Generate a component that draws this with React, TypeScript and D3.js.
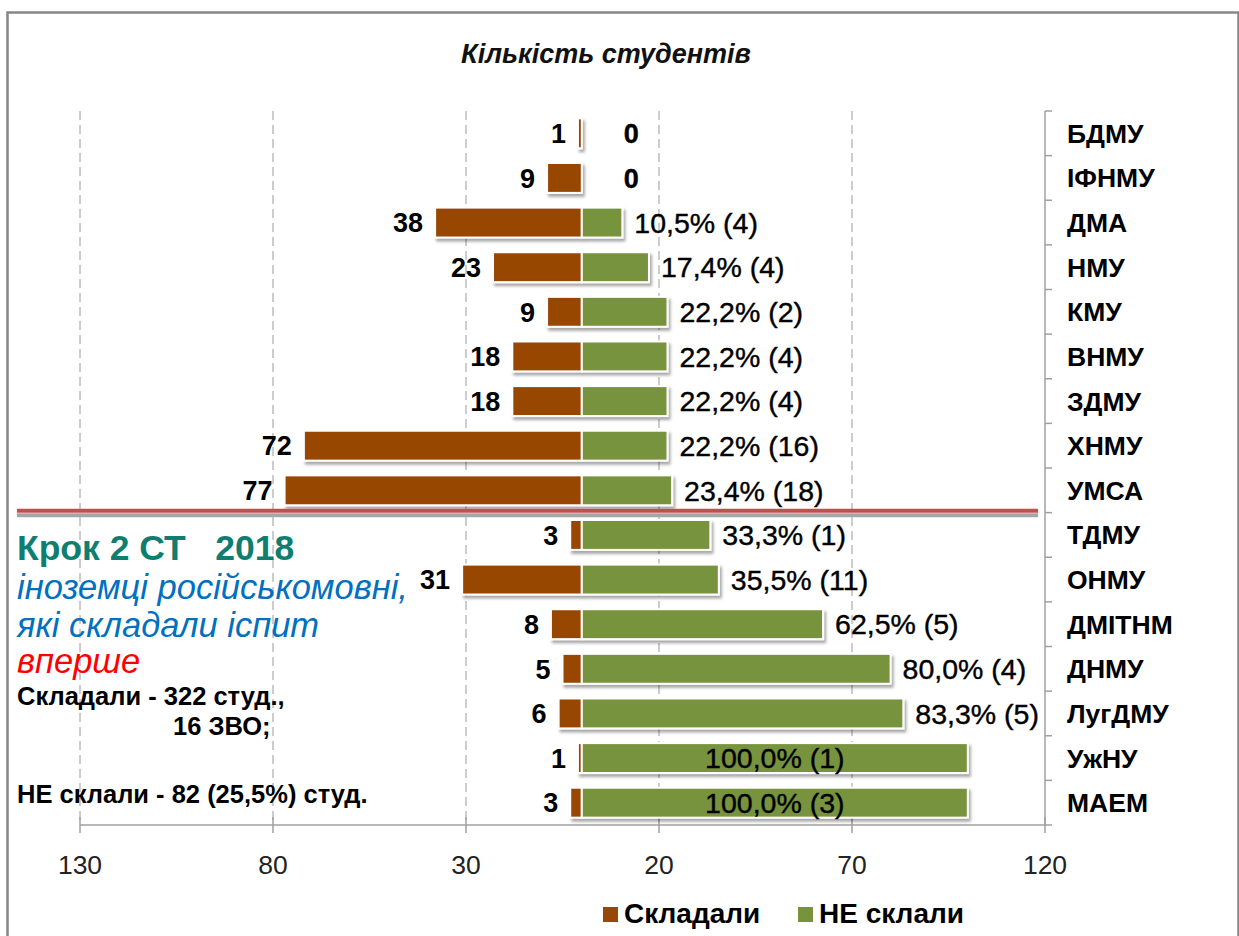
import React, { useEffect, useRef } from "react";
import * as d3 from "d3";

const categories = ["БДМУ", "ІФНМУ", "ДМА", "НМУ", "КМУ", "ВНМУ", "ЗДМУ", "ХНМУ", "УМСА", "ТДМУ", "ОНМУ", "ДМІТНМ", "ДНМУ", "ЛугДМУ", "УжНУ", "МАЕМ"];
const tookExam = [1, 9, 38, 23, 9, 18, 18, 72, 77, 3, 31, 8, 5, 6, 1, 3];
const failedPct = [0, 0, 10.5, 17.4, 22.2, 22.2, 22.2, 22.2, 23.4, 33.3, 35.5, 62.5, 80.0, 83.3, 100, 100];
const failedCount = [0, 0, 4, 4, 2, 4, 4, 16, 18, 1, 11, 5, 4, 5, 1, 3];
const xTicks = [-130, -80, -30, 20, 70, 120];
const legendItems = ["Складали", "НЕ склали"];

const BROWN = "#974706";
const GREEN = "#77933C";
const FONT = "'Liberation Sans', Arial, sans-serif";

const App = () => {
  const ref = useRef(null);

  useEffect(() => {
    const width = 1239;
    const height = 936;
    const svg = d3.select(ref.current);
    svg.selectAll("*").remove();
    svg.attr("width", width).attr("height", height).style("font-family", FONT);

    const defs = svg.append("defs");
    const f = defs.append("filter").attr("id", "shadow").attr("x", "-10%").attr("y", "-30%").attr("width", "130%").attr("height", "180%");
    f.append("feDropShadow").attr("dx", 2).attr("dy", 3).attr("stdDeviation", 1.8).attr("flood-color", "#000").attr("flood-opacity", 0.35);

    svg.append("rect").attr("width", width).attr("height", height).attr("fill", "#fff");
    // outer frame
    svg.append("rect").attr("x", 7.5).attr("y", 12.5).attr("width", 1231).attr("height", 940)
      .attr("fill", "none").attr("stroke", "#878787").attr("stroke-width", 2.5);

    const x = d3.scaleLinear().domain([-130, 120]).range([80, 1045]);
    const y = d3.scaleBand().domain(categories).range([111, 825]).paddingInner(0.33).paddingOuter(0.165);
    const step = y.step();
    const top = y.range()[0];
    const bottom = y.range()[1];

    // title
    svg.append("text").attr("x", 606).attr("y", 63).attr("text-anchor", "middle")
      .style("font-size", "27px").style("font-style", "italic").style("font-weight", "bold").attr("fill", "#111")
      .text("Кількість студентів");

    // dashed grid
    svg.selectAll(".grid").data(xTicks.slice(0, -1)).enter().append("line")
      .attr("x1", (d) => x(d)).attr("x2", (d) => x(d))
      .attr("y1", top).attr("y2", bottom)
      .attr("stroke", "#9a9a9a").attr("stroke-width", 1).attr("stroke-dasharray", "9,5");

    // bottom axis
    svg.append("line").attr("x1", x(-130)).attr("x2", x(120)).attr("y1", bottom).attr("y2", bottom)
      .attr("stroke", "#a0a0a0").attr("stroke-width", 1.5);
    svg.selectAll(".xtick").data(xTicks).enter().append("line")
      .attr("x1", (d) => x(d)).attr("x2", (d) => x(d)).attr("y1", bottom - 8).attr("y2", bottom + 8)
      .attr("stroke", "#a0a0a0").attr("stroke-width", 1.5);
    svg.selectAll(".xlabel").data(xTicks).enter().append("text")
      .attr("x", (d) => x(d)).attr("y", 874).attr("text-anchor", "middle")
      .style("font-size", "26.5px").attr("fill", "#222")
      .text((d) => Math.abs(d));

    // right axis
    svg.append("line").attr("x1", x(120)).attr("x2", x(120)).attr("y1", top).attr("y2", bottom)
      .attr("stroke", "#a0a0a0").attr("stroke-width", 1.5);
    svg.selectAll(".ytick").data(d3.range(categories.length + 1)).enter().append("line")
      .attr("x1", x(120)).attr("x2", x(120) + 7)
      .attr("y1", (i) => top + i * step).attr("y2", (i) => top + i * step)
      .attr("stroke", "#a0a0a0").attr("stroke-width", 1.5);
    svg.selectAll(".ylabel").data(categories).enter().append("text")
      .attr("x", x(120) + 22).attr("y", (d) => y(d) + y.bandwidth() / 2).attr("dy", "0.36em")
      .style("font-size", "26.5px").style("font-weight", "bold").attr("fill", "#000")
      .text((d) => d);

    const rows = categories.map((c, i) => ({ c, took: tookExam[i], pct: failedPct[i], n: failedCount[i] }));

    // bars
    const bars = svg.append("g").attr("filter", "url(#shadow)");
    bars.selectAll(".left").data(rows).enter().append("rect")
      .attr("x", (d) => x(-d.took)).attr("y", (d) => y(d.c))
      .attr("width", (d) => x(0) - x(-d.took)).attr("height", y.bandwidth())
      .attr("fill", BROWN).attr("stroke", "#fff").attr("stroke-width", 2);
    bars.selectAll(".right").data(rows.filter((d) => d.pct > 0)).enter().append("rect")
      .attr("x", x(0)).attr("y", (d) => y(d.c))
      .attr("width", (d) => x(d.pct) - x(0)).attr("height", y.bandwidth())
      .attr("fill", GREEN).attr("stroke", "#fff").attr("stroke-width", 2);

    // value labels
    svg.selectAll(".lval").data(rows).enter().append("text")
      .attr("x", (d) => x(-d.took) - 12).attr("y", (d) => y(d.c) + y.bandwidth() / 2).attr("dy", "0.36em")
      .attr("text-anchor", "end").style("font-size", "27px").style("font-weight", "bold").attr("fill", "#000")
      .text((d) => d.took);

    const fmt = (d) => (d.n === 0 ? "0" : d3.format(".1f")(d.pct).replace(".", ",") + "% (" + d.n + ")");
    svg.selectAll(".rval").data(rows).enter().append("text")
      .attr("x", (d) => (d.n === 0 ? x(0) + 42 : d.pct >= 100 ? (x(0) + x(d.pct)) / 2 : x(d.pct) + 12))
      .attr("y", (d) => y(d.c) + y.bandwidth() / 2).attr("dy", "0.36em")
      .attr("text-anchor", (d) => (d.pct >= 100 ? "middle" : "start"))
      .style("font-size", (d) => (d.n === 0 ? "27px" : "28.5px")).style("font-weight", (d) => (d.n === 0 ? "bold" : "normal"))
      .attr("fill", "#000").attr("stroke", "#000").attr("stroke-width", 0.4)
      .text(fmt);

    // red separator between УМСА and ТДМУ
    const sepY = y("ТДМУ") - step * 0.165 - 2;
    svg.append("line").attr("x1", 17).attr("x2", 1038).attr("y1", sepY + 4.5).attr("y2", sepY + 4.5)
      .attr("stroke", "#a6a6a6").attr("stroke-width", 4);
    svg.append("line").attr("x1", 17).attr("x2", 1038).attr("y1", sepY).attr("y2", sepY)
      .attr("stroke", "#C0504D").attr("stroke-width", 4);

    // annotation text
    const note = svg.append("g").attr("fill", "#000");
    note.append("text").attr("x", 17).attr("y", 560).attr("xml:space", "preserve").style("white-space", "pre")
      .style("font-size", "35.5px").style("font-weight", "bold").attr("fill", "#0E7E70").text("Крок 2 СТ   2018");
    note.append("text").attr("x", 17).attr("y", 599).style("font-size", "34.5px").style("font-style", "italic")
      .attr("fill", "#0070C0").text("іноземці російськомовні,");
    note.append("text").attr("x", 17).attr("y", 637).style("font-size", "34.5px").style("font-style", "italic")
      .attr("fill", "#0070C0").text("які складали іспит");
    note.append("text").attr("x", 17).attr("y", 673).style("font-size", "34.5px").style("font-style", "italic")
      .attr("fill", "#FF0000").text("вперше");
    note.append("text").attr("x", 17).attr("y", 705).style("font-size", "25.5px").style("font-weight", "bold")
      .text("Складали - 322 студ.,");
    note.append("text").attr("x", 173).attr("y", 735).style("font-size", "25.5px").style("font-weight", "bold")
      .text("16 ЗВО;");
    note.append("text").attr("x", 17).attr("y", 803).style("font-size", "25.5px").style("font-weight", "bold")
      .text("НЕ склали - 82 (25,5%) студ.");

    // legend
    const legendX = [603, 798];
    const colors = [BROWN, GREEN];
    const lg = svg.selectAll(".legend").data(legendItems).enter().append("g")
      .attr("transform", (d, i) => `translate(${legendX[i]},907)`);
    lg.append("rect").attr("width", 15).attr("height", 15).attr("fill", (d, i) => colors[i]);
    lg.append("text").attr("x", 21).attr("y", 16).style("font-size", "28px").style("font-weight", "bold")
      .attr("fill", "#000").text((d) => d);
  }, []);

  return <svg ref={ref} style={{ position: "absolute", left: 0, top: 0 }}></svg>;
};

export default App;
